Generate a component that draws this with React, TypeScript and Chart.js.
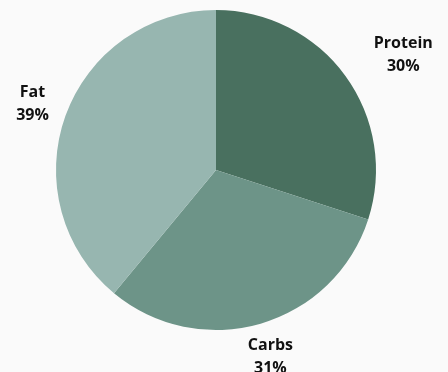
import React, { useEffect, useRef } from "react";
import { Chart, registerables } from "chart.js";

Chart.register(...registerables);

const categories = ["Protein", "Carbs", "Fat"];
const shares = [30, 31, 39];
const sliceColors = ["#49705f", "#6d9488", "#97b6b0"];

const outsideLabels = {
  id: "outsideLabels",
  afterDatasetsDraw(chart: any) {
    const ctx = chart.ctx;
    const meta = chart.getDatasetMeta(0);
    const data = chart.data.datasets[0].data as number[];
    const total = data.reduce((a, b) => a + b, 0);
    ctx.save();
    ctx.font = "bold 16px 'Open Sans'";
    ctx.fillStyle = "#111111";
    ctx.textBaseline = "middle";
    ctx.textAlign = "center";
    meta.data.forEach((arc: any, i: number) => {
      const p = arc.getProps(["x", "y", "startAngle", "endAngle", "outerRadius"], true);
      const mid = (p.startAngle + p.endAngle) / 2;
      const r = p.outerRadius + 35;
      let x = p.x + Math.cos(mid) * r;
      const y = p.y + Math.sin(mid) * r;
      const pct = Math.round((data[i] / total) * 100) + "%";
      const w = Math.max(ctx.measureText(categories[i]).width, ctx.measureText(pct).width);
      if (Math.cos(mid) > 0.6) x += w / 2;
      ctx.fillText(categories[i], x, y - 11.5);
      ctx.fillText(pct, x, y + 11.5);
    });
    ctx.restore();
  },
};

export default function App() {
  const ref = useRef<HTMLCanvasElement>(null);
  useEffect(() => {
    document.body.style.margin = "0";
    document.body.style.background = "#fafafa";
    const chart = new Chart(ref.current!, {
      type: "pie",
      data: {
        labels: categories,
        datasets: [
          {
            data: shares,
            backgroundColor: sliceColors,
            borderWidth: 0,
          },
        ],
      },
      options: {
        animation: false,
        responsive: false,
        layout: { padding: { left: 56, top: 10, right: 72, bottom: 42 } },
        plugins: { legend: { display: false }, tooltip: { enabled: false } },
      },
      plugins: [outsideLabels],
    });
    return () => chart.destroy();
  }, []);
  return (
    <div style={{ position: "absolute", left: 0, top: 0, width: 448, height: 372, background: "#fafafa" }}>
      <canvas ref={ref} width={448} height={372} />
    </div>
  );
}
